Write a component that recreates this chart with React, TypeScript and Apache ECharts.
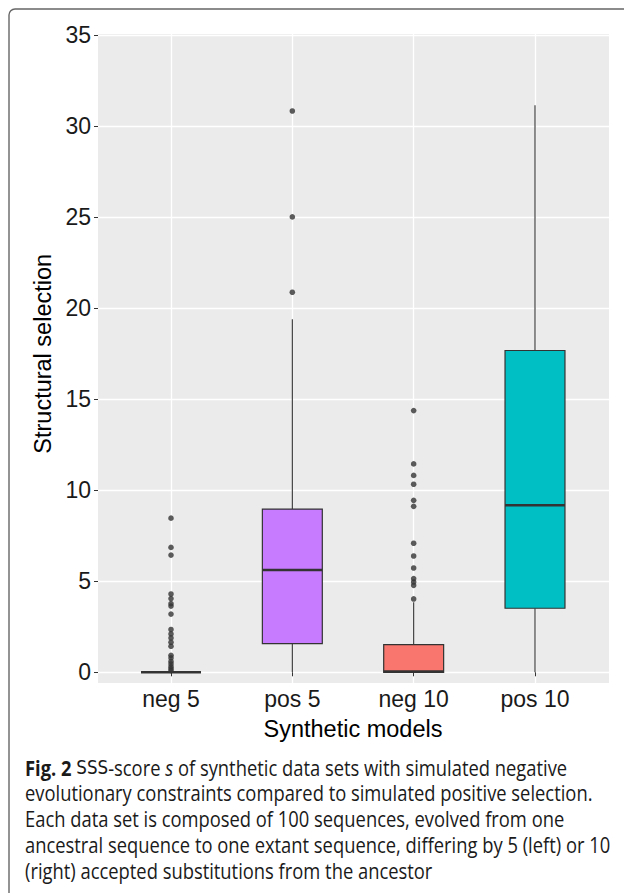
import React, { useEffect, useRef } from 'react';
import * as echarts from 'echarts';

// ---- data ----
const categories = ['neg 5', 'pos 5', 'neg 10', 'pos 10'];
const whiskerLow = [0, 0, 0, 0];
const lowerQuartile = [0, 1.58, 0, 3.52];
const medians = [0, 5.62, 0.04, 9.18];
const upperQuartile = [0, 8.97, 1.52, 17.68];
const whiskerHigh = [0, 19.4, 3.85, 31.15];

const outliersNeg5 = [8.47, 6.86, 6.44, 4.3, 4.05, 3.77, 3.64, 3.2, 2.35, 2.11, 1.89, 1.65, 1.43, 0.93, 0.79, 0.6, 0.46, 0.31, 0.2, 0.09];
const outliersPos5 = [30.84, 25.02, 20.88];
const outliersNeg10 = [14.38, 11.45, 10.82, 10.33, 9.45, 9.12, 7.09, 6.39, 5.73, 5.15, 4.96, 4.78, 4.03];
const outliersPos10: number[] = [];

const yMin = 0;
const yMax = 35;
const yStep = 5;

const xTitle = 'Synthetic models';
const yTitle = 'Structural selection';

const captionLines = [
  '{b|Fig. 2} {sss|SSS}-score {i|s} of synthetic data sets with simulated negative',
  'evolutionary constraints compared to simulated positive selection.',
  'Each data set is composed of 100 sequences, evolved from one',
  'ancestral sequence to one extant sequence, differing by 5 (left) or 10',
  '(right) accepted substitutions from the ancestor',
];

// ---- style ----
const boxColors = ['#7CAE00', '#C77CFF', '#F8766D', '#00BFC4'];
const panelBg = '#EBEBEB';
const dark = '#333333';

export default function App() {
  const ref = useRef<HTMLDivElement>(null);

  useEffect(() => {
    if (!ref.current) return;
    const chart = echarts.init(ref.current, null, { renderer: 'svg' });

    const boxData = categories.map((c, i) => [
      i,
      whiskerLow[i],
      lowerQuartile[i],
      medians[i],
      upperQuartile[i],
      whiskerHigh[i],
    ]);

    const outlierGroups = [outliersNeg5, outliersPos5, outliersNeg10, outliersPos10];
    const outlierData: any[] = [];
    outlierGroups.forEach((arr, i) => arr.forEach((v) => outlierData.push([i, v])));

    const pxPerUnit = 637 / (yMax - yMin);
    const panelTop = 34;
    const panelBottom = 683;
    const axisTopPx = 35.3;
    const axisZeroPx = axisTopPx + 637;
    const panelMin = yMin - (panelBottom - axisZeroPx) / pxPerUnit;
    const panelMax = yMax + (axisTopPx - panelTop) / pxPerUnit;

    const captionGraphics = captionLines.map((line, k) => ({
      type: 'text',
      x: 25,
      y: 767 + k * 25.8,
      scaleX: 0.835,
      style: {
        text: line,
        fontFamily: 'Open Sans',
        fontSize: 22,
        fill: '#1a1a1a',
        verticalAlign: 'middle',
        align: 'left',
        rich: {
          b: { fontFamily: 'Open Sans', fontWeight: 'bold', fontSize: 22, fill: '#1a1a1a' },
          sss: { fontFamily: 'DejaVu Sans', fontSize: 20, fill: '#1a1a1a' },
          i: { fontFamily: 'Open Sans', fontStyle: 'italic', fontSize: 22, fill: '#1a1a1a' },
        },
      },
    }));

    const option: any = {
      animation: false,
      backgroundColor: '#ffffff',
      graphic: [
        {
          type: 'rect',
          z: -10,
          shape: { x: 9, y: 9, width: 700, height: 1000, r: 6 },
          style: { fill: 'none', stroke: '#666666', lineWidth: 1.4 },
        },
        {
          type: 'rect',
          z: -10,
          shape: { x: 98, y: panelTop, width: 511, height: panelBottom - panelTop },
          style: { fill: panelBg },
        },
        ...captionGraphics,
      ],
      grid: [
        { left: 98, top: axisTopPx, width: 511, height: 637 },
        { left: 171, top: panelTop, width: 364, height: panelBottom - panelTop },
      ],
      xAxis: [
        { gridIndex: 0, type: 'value', min: 0, max: 1, show: false },
        {
          gridIndex: 1,
          type: 'category',
          data: categories,
          boundaryGap: false,
          axisLine: { show: false },
          axisTick: { show: true, length: 4, lineStyle: { color: dark, width: 1 } },
          axisLabel: { fontSize: 23, color: '#1a1a1a', margin: 4, fontFamily: 'Liberation Sans' },
          splitLine: { show: true, lineStyle: { color: '#ffffff', width: 1.3 } },
          name: xTitle,
          nameLocation: 'middle',
          nameGap: 34,
          nameTextStyle: { fontSize: 23.5, color: '#000000', fontFamily: 'Liberation Sans' },
        },
      ],
      yAxis: [
        {
          gridIndex: 0,
          type: 'value',
          min: yMin,
          max: yMax,
          interval: yStep,
          axisLine: { show: false },
          axisTick: { show: true, length: 4, lineStyle: { color: dark, width: 1 } },
          axisLabel: { fontSize: 23, color: '#1a1a1a', margin: 7, fontFamily: 'Liberation Sans' },
          splitLine: { show: true, lineStyle: { color: '#ffffff', width: 1.3 } },
          name: yTitle,
          nameLocation: 'middle',
          nameRotate: 90,
          nameGap: 39,
          nameTextStyle: { fontSize: 23.5, color: '#000000', fontFamily: 'Liberation Sans' },
        },
        {
          gridIndex: 1,
          type: 'value',
          min: panelMin,
          max: panelMax,
          show: false,
          splitLine: { show: false },
        },
      ],
      series: [
        {
          type: 'custom',
          xAxisIndex: 1,
          yAxisIndex: 1,
          data: boxData,
          encode: { x: 0, y: [1, 2, 3, 4, 5] },
          renderItem: (params: any, api: any) => {
            const idx = api.value(0);
            const lo = api.coord([idx, api.value(1)]);
            const q1 = api.coord([idx, api.value(2)]);
            const med = api.coord([idx, api.value(3)]);
            const q3 = api.coord([idx, api.value(4)]);
            const hi = api.coord([idx, api.value(5)]);
            const bw = api.size([1, 0])[0];
            const hw = bw * 0.247;
            const cx = lo[0];
            return {
              type: 'group',
              children: [
                { type: 'line', shape: { x1: cx, y1: q3[1], x2: cx, y2: hi[1] }, style: { stroke: dark, lineWidth: 1.1 } },
                { type: 'line', shape: { x1: cx, y1: lo[1], x2: cx, y2: q1[1] }, style: { stroke: dark, lineWidth: 1.1 } },
                {
                  type: 'rect',
                  shape: { x: cx - hw, y: q3[1], width: hw * 2, height: q1[1] - q3[1] },
                  style: { fill: boxColors[params.dataIndex], stroke: dark, lineWidth: 1.2 },
                },
                { type: 'line', shape: { x1: cx - hw, y1: med[1], x2: cx + hw, y2: med[1] }, style: { stroke: dark, lineWidth: 2.6 } },
              ],
            };
          },
        },
        {
          type: 'scatter',
          xAxisIndex: 1,
          yAxisIndex: 1,
          data: outlierData,
          symbol: 'circle',
          symbolSize: 5.6,
          itemStyle: { color: dark },
          clip: false,
        },
      ],
    };

    chart.setOption(option);
    return () => chart.dispose();
  }, []);

  return (
    <div
      ref={ref}
      style={{ position: 'absolute', left: 0, top: 0, width: 624, height: 893 }}
    />
  );
}
